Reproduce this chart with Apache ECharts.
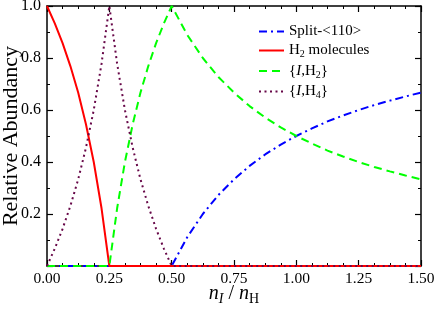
<!DOCTYPE html>
<html>
<head>
<meta charset="utf-8">
<script src="https://cdn.jsdelivr.net/npm/echarts@6/dist/echarts.min.js"></script>
<style>
html,body{margin:0;padding:0;background:#fff;}
#c{width:436px;height:311px;}
</style>
</head>
<body>
<div id="c"></div>
<script>
// ---- data ----
var xTicks = [0, 0.25, 0.5, 0.75, 1.0, 1.25, 1.5];
var yTicks = [0.2, 0.4, 0.6, 0.8, 1.0];

var seriesNames = ['Split-<110>', 'H2 molecules', '{I,H2}', '{I,H4}'];

var xSplit = [0, 0.5, 0.5625, 0.625, 0.6875, 0.75, 0.8125, 0.875, 0.9375, 1.0, 1.0625, 1.125, 1.1875, 1.25, 1.3125, 1.375, 1.4375, 1.5];
var ySplit = [0, 0, 0.111, 0.200, 0.273, 0.333, 0.385, 0.429, 0.467, 0.500, 0.529, 0.556, 0.579, 0.600, 0.619, 0.636, 0.652, 0.667];

var xH2 = [0, 0.03125, 0.0625, 0.09375, 0.125, 0.15625, 0.1875, 0.21875, 0.25, 1.5];
var yH2 = [1.0, 0.933, 0.857, 0.769, 0.667, 0.545, 0.400, 0.222, 0, 0];

var xIH2 = [0, 0.25, 0.28125, 0.3125, 0.34375, 0.375, 0.40625, 0.4375, 0.46875, 0.5, 0.5625, 0.625, 0.6875, 0.75, 0.8125, 0.875, 0.9375, 1.0, 1.0625, 1.125, 1.1875, 1.25, 1.3125, 1.375, 1.4375, 1.5];
var yIH2 = [0, 0, 0.222, 0.400, 0.545, 0.667, 0.769, 0.857, 0.933, 1.0, 0.889, 0.800, 0.727, 0.667, 0.615, 0.571, 0.533, 0.500, 0.471, 0.444, 0.421, 0.400, 0.381, 0.364, 0.348, 0.333];

var xIH4 = [0, 0.03125, 0.0625, 0.09375, 0.125, 0.15625, 0.1875, 0.21875, 0.25, 0.28125, 0.3125, 0.34375, 0.375, 0.40625, 0.4375, 0.46875, 0.5, 1.5];
var yIH4 = [0, 0.067, 0.143, 0.231, 0.333, 0.455, 0.600, 0.778, 1.0, 0.778, 0.600, 0.455, 0.333, 0.231, 0.143, 0.067, 0, 0];

function pairs(xs, ys) { return xs.map(function (x, i) { return [x, ys[i]]; }); }

var FONT = 'Liberation Serif';
var COLORS = ['#0000ff', '#ff0000', '#00ff00', '#670748'];
var DASHES = [[8, 4, 2, 4], 'solid', [8, 5], [2, 3.5]];

var legendRich = {
  t: { fontFamily: FONT, fontSize: 15, lineHeight: 18, color: '#000' },
  it: { fontFamily: FONT, fontSize: 15, lineHeight: 18, fontStyle: 'italic', color: '#000' },
  sub: { fontFamily: FONT, fontSize: 10, lineHeight: 10, verticalAlign: 'bottom', color: '#000' }
};
var legendLabels = {};
legendLabels[seriesNames[0]] = '{t|Split-<110>}';
legendLabels[seriesNames[1]] = '{t|H}{sub|2}{t| molecules}';
legendLabels[seriesNames[2]] = '\u007B{it|I}{t|,H}{sub|2}\u007D';
legendLabels[seriesNames[3]] = '\u007B{it|I}{t|,H}{sub|4}\u007D';

var axisCommon = {
  type: 'value',
  axisLine: { show: true, onZero: false, lineStyle: { color: '#000', width: 1.5 } },
  axisTick: { show: true, inside: true, length: 6, lineStyle: { color: '#000', width: 1.2 } },
  minorTick: { show: true, length: 3, lineStyle: { color: '#000', width: 1 } },
  splitLine: { show: false },
  minorSplitLine: { show: false }
};

var chart = echarts.init(document.getElementById('c'), null, { renderer: 'canvas' });
chart.setOption({
  animation: false,
  backgroundColor: '#fff',
  grid: { left: 47, right: 15, top: 6, bottom: 45, containLabel: false, outerBoundsMode: 'none' },
  legend: {
    show: true,
    data: seriesNames.map(function (n, i) {
      return { name: n, lineStyle: { color: COLORS[i], width: 2, type: DASHES[i] }, itemStyle: { opacity: 0 } };
    }),
    orient: 'vertical',
    left: 253,
    top: 19,
    itemWidth: 25,
    itemHeight: 14,
    itemGap: 4,
    itemStyle: { opacity: 0 },
    textStyle: { fontFamily: FONT, fontSize: 15, color: '#000', rich: legendRich },
    formatter: function (n) { return legendLabels[n]; }
  },
  xAxis: [
    Object.assign({}, axisCommon, {
      position: 'bottom', min: 0, max: 1.5, interval: 0.25,
      minorTick: Object.assign({}, axisCommon.minorTick, { splitNumber: 4 }),
      axisLabel: { show: true, margin: 5, fontFamily: FONT, fontSize: 15.5, color: '#000',
        formatter: function (v) { return v.toFixed(2); } },
      name: '{i|n}{isub|I}{t| / }{i|n}{sub|H}',
      nameLocation: 'middle',
      nameGap: 16,
      nameMoveOverlap: false,
      nameTextStyle: {
        rich: {
          i: { fontFamily: FONT, fontSize: 20, fontStyle: 'italic', lineHeight: 24, color: '#000' },
          t: { fontFamily: FONT, fontSize: 20, lineHeight: 24, color: '#000' },
          isub: { fontFamily: FONT, fontSize: 14, fontStyle: 'italic', lineHeight: 13, verticalAlign: 'bottom', color: '#000' },
          sub: { fontFamily: FONT, fontSize: 14, lineHeight: 13, verticalAlign: 'bottom', color: '#000' }
        }
      }
    }),
    Object.assign({}, axisCommon, {
      position: 'top', min: 0, max: 1.5, interval: 0.25,
      minorTick: Object.assign({}, axisCommon.minorTick, { splitNumber: 4 }),
      axisLabel: { show: false }
    })
  ],
  yAxis: [
    Object.assign({}, axisCommon, {
      position: 'left', min: 0, max: 1, interval: 0.2,
      minorTick: Object.assign({}, axisCommon.minorTick, { splitNumber: 2 }),
      axisLabel: { show: true, margin: 6, fontFamily: FONT, fontSize: 16, color: '#000',
        formatter: function (v) {
          for (var k = 0; k < yTicks.length; k++) { if (Math.abs(yTicks[k] - v) < 1e-9) return v.toFixed(1); }
          return '';
        } },
      name: 'Relative Abundancy',
      nameLocation: 'middle',
      nameGap: 25,
      nameMoveOverlap: false,
      nameTextStyle: { fontFamily: FONT, fontSize: 22, color: '#000' }
    }),
    Object.assign({}, axisCommon, {
      position: 'right', min: 0, max: 1, interval: 0.2,
      minorTick: Object.assign({}, axisCommon.minorTick, { splitNumber: 2 }),
      axisLabel: { show: false }
    })
  ],
  series: seriesNames.map(function (n, i) {
    var xs = [xSplit, xH2, xIH2, xIH4][i];
    var ys = [ySplit, yH2, yIH2, yIH4][i];
    return {
      name: n, type: 'line', data: pairs(xs, ys), showSymbol: false, symbol: 'none',
      lineStyle: { color: COLORS[i], width: 2, type: DASHES[i] }, itemStyle: { color: COLORS[i] }
    };
  })
});
</script>
</body>
</html>
